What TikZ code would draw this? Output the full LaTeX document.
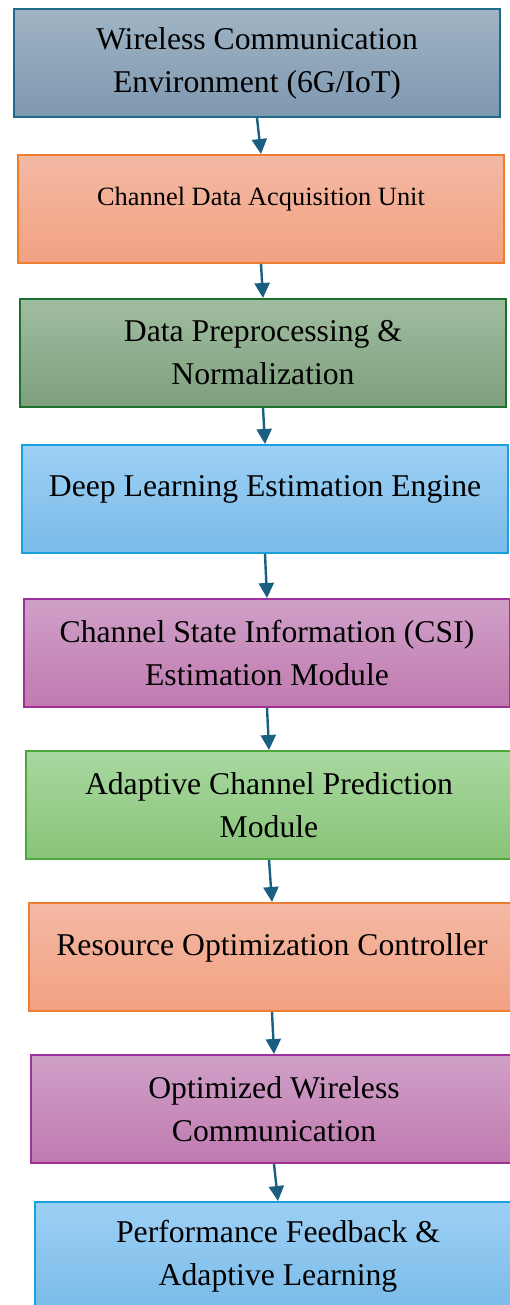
\documentclass[tikz,border=0pt]{standalone}
\usepackage{fontspec}
\setmainfont{Liberation Serif}
\usepackage{tikz}
\usetikzlibrary{arrows.meta,positioning}
\definecolor{envtop}{HTML}{A0B4C4}
\definecolor{envbot}{HTML}{7E98B0}
\definecolor{envline}{HTML}{1F6A8C}
\definecolor{orgtop}{HTML}{F4B9A4}
\definecolor{orgbot}{HTML}{F2A182}
\definecolor{orgline}{HTML}{ED7D31}
\definecolor{gretop}{HTML}{A0BCA0}
\definecolor{grebot}{HTML}{7EA07E}
\definecolor{greline}{HTML}{1E7030}
\definecolor{blutop}{HTML}{9DD0F5}
\definecolor{blubot}{HTML}{7ABBE8}
\definecolor{bluline}{HTML}{1AA0DC}
\definecolor{purtop}{HTML}{D0A0C8}
\definecolor{purbot}{HTML}{C07AB0}
\definecolor{purline}{HTML}{A0309A}
\definecolor{lgrtop}{HTML}{A8D8A0}
\definecolor{lgrbot}{HTML}{88C478}
\definecolor{lgrline}{HTML}{50A83C}
\definecolor{flowcol}{HTML}{1A5E80}
\tikzset{
  box/.style={draw, line width=2pt, anchor=north west, minimum width=486pt, minimum height=108pt,
    inner sep=0pt, align=center, font=\fontsize{31.7}{43}\selectfont},
  oneline/.style={text depth=25pt},
  envbox/.style={box, top color=envtop, bottom color=envbot, draw=envline},
  orgbox/.style={box, top color=orgtop, bottom color=orgbot, draw=orgline},
  grebox/.style={box, top color=gretop, bottom color=grebot, draw=greline},
  blubox/.style={box, top color=blutop, bottom color=blubot, draw=bluline},
  purbox/.style={box, top color=purtop, bottom color=purbot, draw=purline},
  lgrbox/.style={box, top color=lgrtop, bottom color=lgrbot, draw=lgrline},
  flow/.style={draw=flowcol, line width=2.4pt, -{Triangle[width=15pt,length=15pt]}}
}
\begin{document}
\begin{tikzpicture}[x=1pt,y=-1pt]
\useasboundingbox (0,0) rectangle (510,1305);
\clip (0,0) rectangle (510,1305);
\node[envbox] (env) at (13,8) {Wireless Communication\\Environment (6G/IoT)};
\node[orgbox, oneline, font=\fontsize{26.4}{36}\selectfont] (acq) at (17,154) {Channel Data Acquisition Unit};
\node[grebox] (pre) at (19,298) {Data Preprocessing \&\\Normalization};
\node[blubox, oneline] (dle) at (21,444) {Deep Learning Estimation Engine};
\node[purbox] (csi) at (23,598) {Channel State Information (CSI)\\Estimation Module};
\node[lgrbox] (acp) at (25,750) {Adaptive Channel Prediction\\Module};
\node[orgbox, oneline] (roc) at (28,902) {Resource Optimization Controller};
\node[purbox] (owc) at (30,1054) {Optimized Wireless\\Communication};
\node[blubox] (pfa) at (34,1201) {Performance Feedback \&\\Adaptive Learning};
\draw[flow] (env.south) -- (acq.north);
\draw[flow] (acq.south) -- (pre.north);
\draw[flow] (pre.south) -- (dle.north);
\draw[flow] (dle.south) -- (csi.north);
\draw[flow] (csi.south) -- (acp.north);
\draw[flow] (acp.south) -- (roc.north);
\draw[flow] (roc.south) -- (owc.north);
\draw[flow] (owc.south) -- (pfa.north);
\end{tikzpicture}
\end{document}
